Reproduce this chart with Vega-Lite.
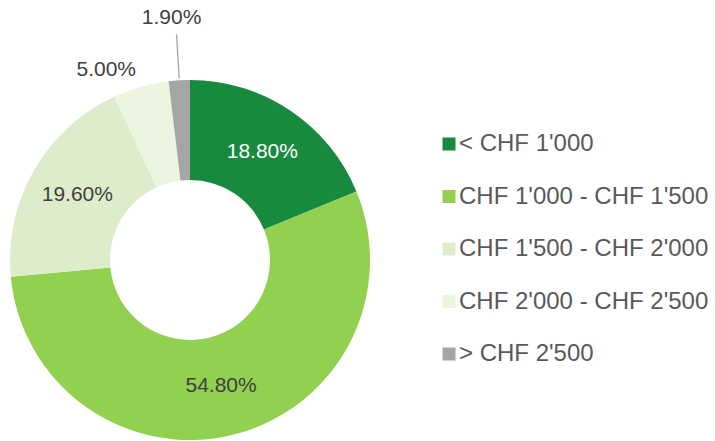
{
  "$schema": "https://vega.github.io/schema/vega-lite/v6.json",
  "width": 380,
  "height": 362,
  "autosize": "none",
  "padding": {"left": 0, "top": 79, "right": 335, "bottom": 0},
  "background": "white",
  "config": {"font": "Liberation Sans", "view": {"stroke": null}},
  "data": {"values": [
    {"i": 1, "cat": "< CHF 1'000", "v": 18.8, "label": "18.80%"},
    {"i": 2, "cat": "CHF 1'000 - CHF 1'500", "v": 54.8, "label": "54.80%"},
    {"i": 3, "cat": "CHF 1'500 - CHF 2'000", "v": 19.6, "label": "19.60%"},
    {"i": 4, "cat": "CHF 2'000 - CHF 2'500", "v": 5.0, "label": "5.00%"},
    {"i": 5, "cat": "> CHF 2'500", "v": 1.9, "label": "1.90%"}
  ]},
  "encoding": {
    "theta": {"field": "v", "type": "quantitative", "stack": true},
    "order": {"field": "i", "type": "quantitative"}
  },
  "layer": [
    {
      "mark": {"type": "arc", "innerRadius": 80, "outerRadius": 180},
      "encoding": {
        "color": {
          "field": "cat", "type": "nominal",
          "scale": {
            "domain": ["< CHF 1'000", "CHF 1'000 - CHF 1'500", "CHF 1'500 - CHF 2'000", "CHF 2'000 - CHF 2'500", "> CHF 2'500"],
            "range": ["#178a3e", "#92d050", "#dfeccb", "#ebf5df", "#a5a5a5"]
          },
          "legend": {
            "title": null, "orient": "none", "legendX": 437, "legendY": 53,
            "symbolType": "square", "symbolSize": 169, "symbolStrokeWidth": 0,
            "labelFontSize": 24, "labelColor": "#595959", "labelOffset": -2,
            "rowPadding": 28.5, "labelLimit": 400
          }
        }
      }
    },
    {
      "mark": {"type": "arc", "innerRadius": 182, "outerRadius": 226, "padAngle": 1, "fillOpacity": 0, "strokeWidth": 1.3},
      "encoding": {
        "stroke": {"condition": {"test": "datum.i == 5", "value": "#a5a5a5"}, "value": "transparent"}
      }
    },
    {
      "mark": {"type": "text", "radius": 130, "fontSize": 21, "align": "center", "baseline": "middle"},
      "encoding": {
        "text": {"condition": {"test": "datum.v >= 10", "field": "label"}, "value": ""},
        "color": {"condition": {"test": "datum.i == 1", "value": "#ffffff"}, "value": "#404040"}
      }
    },
    {
      "mark": {"type": "text", "radius": 198, "fontSize": 21, "align": "right", "baseline": "middle", "color": "#404040"},
      "encoding": {
        "text": {"condition": {"test": "datum.i == 4", "field": "label"}, "value": ""}
      }
    },
    {
      "mark": {"type": "text", "radius": 242, "fontSize": 21, "align": "center", "baseline": "middle", "color": "#404040", "dx": -4},
      "encoding": {
        "text": {"condition": {"test": "datum.i == 5", "field": "label"}, "value": ""}
      }
    }
  ]
}
